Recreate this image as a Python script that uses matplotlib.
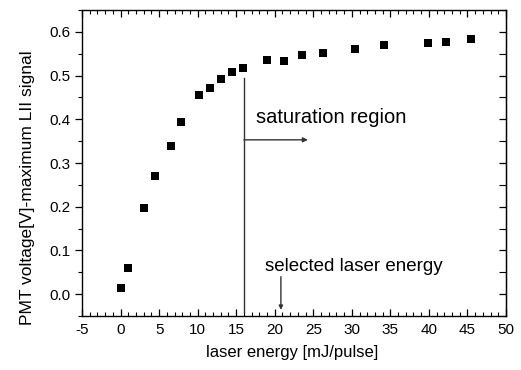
import matplotlib
matplotlib.use("Agg")
import matplotlib.pyplot as plt
from matplotlib.ticker import MultipleLocator, NullFormatter

plt.rcParams['font.family'] = ['Liberation Sans', 'DejaVu Sans']

energy = [0.0, 1.0, 3.0, 4.5, 6.5, 7.9, 10.2, 11.6, 13.0, 14.4, 15.9,
          19.0, 21.2, 23.6, 26.2, 30.4, 34.2, 39.9, 42.2, 45.4]
signal = [0.013, 0.060, 0.197, 0.271, 0.338, 0.394, 0.455, 0.472, 0.493, 0.509, 0.518,
          0.536, 0.534, 0.548, 0.552, 0.561, 0.570, 0.574, 0.577, 0.583]
xticks = [-5, 0, 5, 10, 15, 20, 25, 30, 35, 40, 45, 50]
yticks = [0.0, 0.1, 0.2, 0.3, 0.4, 0.5, 0.6]

fig = plt.figure(figsize=(5.21, 3.70), dpi=100)
ax = fig.add_axes([0.1574, 0.1459, 0.9712 - 0.1574, 0.973 - 0.1459])

ax.plot(energy, signal, 's', color='black', markersize=6.3, markeredgewidth=0)

ax.set_xlim(-5, 50)
ax.set_ylim(-0.05, 0.65)
ax.set_xticks(xticks)
ax.set_xticklabels([str(t) for t in xticks])
ax.set_yticks(yticks)
ax.set_yticklabels([f"{t:.1f}" for t in yticks])
ax.xaxis.set_minor_locator(MultipleLocator(1))
ax.yaxis.set_minor_locator(MultipleLocator(0.05))
ax.tick_params(axis='x', which='both', direction='in', top=True, bottom=True, labelsize=11)
ax.tick_params(axis='x', which='major', length=5, width=0.9, pad=5)
ax.tick_params(axis='x', which='minor', length=3, width=0.8)
ax.tick_params(axis='y', which='both', direction='out', left=True, right=False, labelsize=11)
ax.tick_params(axis='y', which='major', length=5, width=0.9)
ax.tick_params(axis='y', which='minor', length=3, width=0.8)

sec = ax.secondary_yaxis('right')
sec.set_yticks(yticks)
sec.yaxis.set_minor_locator(MultipleLocator(0.05))
sec.tick_params(which='both', direction='in', labelright=False)
sec.tick_params(which='major', length=5, width=0.9)
sec.tick_params(which='minor', length=5, width=0.8)
sec.yaxis.set_major_formatter(NullFormatter())

for s in ax.spines.values():
    s.set_linewidth(1.0)

ax.set_xlabel("laser energy [mJ/pulse]", fontsize=12)
ax.xaxis.set_label_coords(0.495, -0.095)
ax.set_ylabel("PMT voltage[V]-maximum LII signal", fontsize=12.5)
ax.yaxis.set_label_coords(-0.11, 0.42)

# saturation marker line and arrow
ax.plot([16.0, 16.0], [-0.04, 0.495], color='#333333', linewidth=1.0)
ax.annotate('', xy=(24.3, 0.353), xytext=(16.0, 0.353),
            arrowprops=dict(arrowstyle='-|>', color='#333333', lw=1.0,
                            mutation_scale=7, shrinkA=0, shrinkB=0))
ax.text(17.6, 0.403, "saturation region", fontsize=14.5, va='center', ha='left')

ax.text(18.7, 0.063, "selected laser energy", fontsize=13.5, va='center', ha='left')
ax.annotate('', xy=(20.8, -0.036), xytext=(20.8, 0.040),
            arrowprops=dict(arrowstyle='-|>', color='#333333', lw=1.0,
                            mutation_scale=6, shrinkA=0, shrinkB=0))

fig.savefig("out.png", dpi=100)
